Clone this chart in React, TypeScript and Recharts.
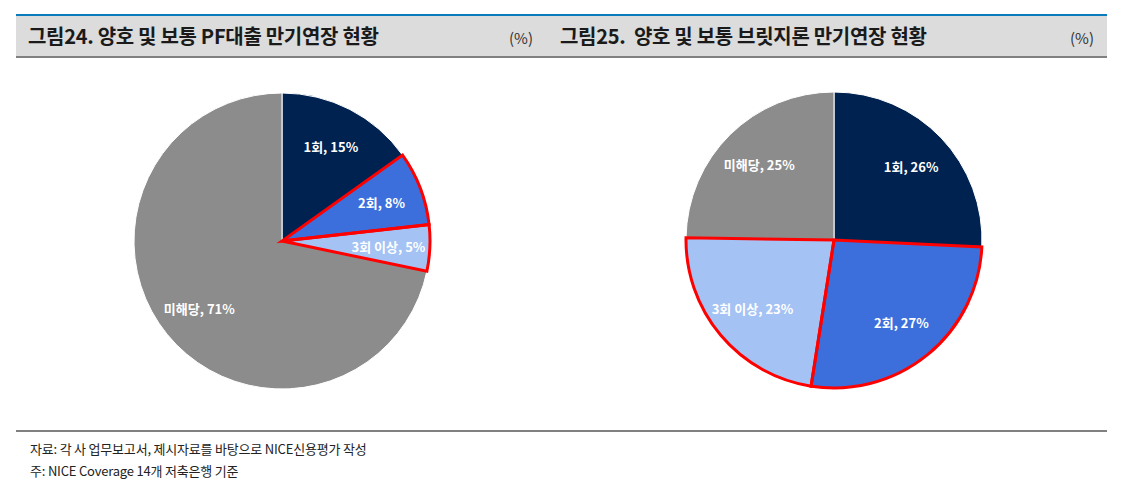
import React from 'react';
import { PieChart, Pie, Cell } from 'recharts';

// 만기연장 횟수 구분
const categories = ['1회', '2회', '3회 이상', '미해당'];

// 그림24: PF대출 (%)
const pfValues = [15, 8, 5, 71];
// 그림25: 브릿지론 (%)
const bridgeValues = [26, 27, 23, 25];

// 강조(빨간 테두리) 대상
const highlighted = ['2회', '3회 이상'];

const sliceColors = ['#002251', '#3d6fdc', '#a4c2f4', '#8c8c8c'];

const titles = [
  '그림24. 양호 및 보통 PF대출 만기연장 현황',
  '그림25.  양호 및 보통 브릿지론 만기연장 현황',
];
const unitLabel = '(%)';
const footnotes = [
  '자료: 각 사 업무보고서, 제시자료를 바탕으로 NICE신용평가 작성',
  '주: NICE Coverage 14개 저축은행 기준',
];

const RAD = Math.PI / 180;
const FONT = '"Noto Sans CJK KR", "Noto Sans", sans-serif';

const toRows = (values: number[]) =>
  categories.map((name, i) => ({ name, value: values[i] }));

const renderLabel = (props: any) => {
  const { cx, cy, midAngle, outerRadius, name, value } = props;
  const r = outerRadius * 0.72;
  const x = cx + r * Math.cos(-midAngle * RAD);
  const y = cy + r * Math.sin(-midAngle * RAD);
  return (
    <text
      x={x}
      y={y}
      fill="#ffffff"
      textAnchor="middle"
      dominantBaseline="central"
      fontSize={13}
      fontWeight={700}
      fontFamily={FONT}
    >
      {`${name}, ${value}%`}
    </text>
  );
};

const DonutPanel = ({ values }: { values: number[] }) => {
  const rows = toRows(values);
  return (
    <PieChart width={550} height={362} margin={{ top: 0, right: 0, bottom: 0, left: 0 }}>
      <Pie
        data={rows}
        dataKey="value"
        nameKey="name"
        cx={282}
        cy={181}
        outerRadius={148}
        startAngle={90}
        endAngle={-270}
        label={renderLabel}
        labelLine={false}
        isAnimationActive={false}
      >
        {rows.map((row, i) => (
          <Cell key={row.name} fill={sliceColors[i]} stroke="#ffffff" strokeWidth={1} />
        ))}
      </Pie>
      {/* 빨간 테두리 덧그리기 */}
      <Pie
        data={rows}
        dataKey="value"
        nameKey="name"
        cx={282}
        cy={181}
        outerRadius={148}
        startAngle={90}
        endAngle={-270}
        isAnimationActive={false}
      >
        {rows.map((row) => (
          <Cell
            key={row.name}
            fill="none"
            stroke={highlighted.includes(row.name) ? '#ff0000' : 'none'}
            strokeWidth={3}
          />
        ))}
      </Pie>
    </PieChart>
  );
};

const titleStyle: React.CSSProperties = {
  position: 'absolute',
  top: 24,
  fontSize: 20,
  fontWeight: 700,
  letterSpacing: -0.3,
  color: '#1a1a1a',
  whiteSpace: 'pre',
  lineHeight: '24px',
};

const unitStyle: React.CSSProperties = {
  position: 'absolute',
  top: 30,
  fontSize: 15,
  color: '#333',
  lineHeight: '16px',
};

const App = () => {
  return (
    <div
      style={{
        position: 'absolute',
        left: 0,
        top: 0,
        width: 1125,
        height: 504,
        background: '#ffffff',
        fontFamily: FONT,
      }}
    >
      {/* 헤더 띠 */}
      <div style={{ position: 'absolute', left: 16, top: 14, width: 1091, height: 2, background: '#0a7bbd' }} />
      <div style={{ position: 'absolute', left: 16, top: 16, width: 1091, height: 40, background: '#dcdcdc' }} />
      <div style={{ position: 'absolute', left: 16, top: 56, width: 1091, height: 2, background: '#808080' }} />

      <div style={{ ...titleStyle, left: 28 }}>{titles[0]}</div>
      <div style={{ ...unitStyle, left: 509 }}>{unitLabel}</div>
      <div style={{ ...titleStyle, left: 560 }}>{titles[1]}</div>
      <div style={{ ...unitStyle, left: 1070 }}>{unitLabel}</div>

      <div style={{ position: 'absolute', left: 0, top: 60 }}>
        <DonutPanel values={pfValues} />
      </div>
      <div style={{ position: 'absolute', left: 552, top: 59 }}>
        <DonutPanel values={bridgeValues} />
      </div>

      {/* 하단 주석 */}
      <div style={{ position: 'absolute', left: 16, top: 430, width: 1091, height: 2, background: '#808080' }} />
      {footnotes.map((t, i) => (
        <div
          key={t}
          style={{
            position: 'absolute',
            left: 30,
            top: 440 + i * 22,
            fontSize: 13,
            letterSpacing: -0.2,
            color: '#222',
            lineHeight: '18px',
            whiteSpace: 'nowrap',
          }}
        >
          {t}
        </div>
      ))}
    </div>
  );
};

export default App;
